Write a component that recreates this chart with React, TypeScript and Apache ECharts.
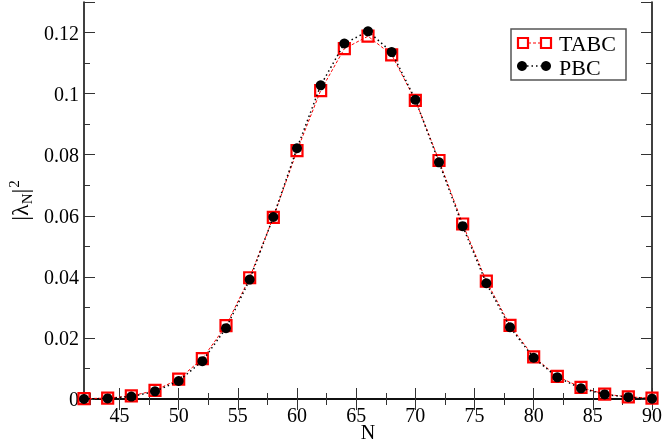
import React, { useEffect, useRef } from "react";
import * as echarts from "echarts";

const N = [42, 44, 46, 48, 50, 52, 54, 56, 58, 60, 62, 64, 66, 68, 70, 72, 74, 76, 78, 80, 82, 84, 86, 88, 90];
const tabc = [0.0001, 0.0003, 0.0010, 0.0028, 0.0065, 0.0132, 0.0240, 0.0397, 0.0595, 0.0813, 0.1010, 0.1147, 0.1188, 0.1127, 0.0978, 0.0781, 0.0573, 0.0386, 0.0241, 0.0138, 0.0074, 0.0038, 0.0016, 0.0007, 0.0003];
const pbc = [0.0000, 0.0002, 0.0008, 0.0025, 0.0059, 0.0124, 0.0232, 0.0391, 0.0596, 0.0821, 0.1027, 0.1164, 0.1204, 0.1136, 0.0980, 0.0775, 0.0566, 0.0379, 0.0235, 0.0135, 0.0071, 0.0035, 0.0015, 0.0006, 0.0001];
const xMajorTicks = [45, 50, 55, 60, 65, 70, 75, 80, 85, 90];
const xMinorTicks = [42.5, 47.5, 52.5, 57.5, 62.5, 67.5, 72.5, 77.5, 82.5, 87.5];
const seriesNames = ["TABC", "PBC"];

const FONT = "Liberation Serif";

export default function App() {
  const ref = useRef<HTMLDivElement>(null);
  useEffect(() => {
    if (!ref.current) return;
    const chart = echarts.init(ref.current, null, { renderer: "svg" });
    const xBase = { type: "value", min: 42, max: 90, gridIndex: 0 };
    const yBase = { type: "value", min: 0, max: 0.13, gridIndex: 0 };
    const tickStyle = { color: "#333", width: 1 };
    const noLabel = { show: false };
    const option: any = {
      animation: false,
      grid: { left: 84, right: 12, top: 2, bottom: 44, outerBoundsMode: "none" },
      xAxis: [
        {
          ...xBase,
          position: "bottom",
          axisLine: { show: true, lineStyle: { color: "#000", width: 1.5 } },
          axisTick: { show: true, inside: true, length: 11, customValues: xMajorTicks, lineStyle: tickStyle },
          axisLabel: { customValues: xMajorTicks, fontFamily: FONT, fontSize: 20, color: "#000", margin: 6 },
          splitLine: { show: false },
          name: "N",
          nameLocation: "middle",
          nameGap: 33,
          nameMoveOverlap: false,
          nameTextStyle: { fontFamily: FONT, fontSize: 20, lineHeight: 16, color: "#000", verticalAlign: "middle" },
        },
        {
          ...xBase,
          position: "bottom",
          axisLine: { show: false },
          axisTick: { show: true, inside: true, length: 6, customValues: xMinorTicks, lineStyle: tickStyle },
          axisLabel: noLabel,
          splitLine: { show: false },
        },
        {
          ...xBase,
          position: "top",
          axisLine: { show: true, lineStyle: { color: "#000", width: 1.5 } },
          axisTick: { show: true, inside: true, length: 11, customValues: xMajorTicks, lineStyle: tickStyle },
          axisLabel: noLabel,
          splitLine: { show: false },
        },
        {
          ...xBase,
          position: "top",
          axisLine: { show: false },
          axisTick: { show: true, inside: true, length: 6, customValues: xMinorTicks, lineStyle: tickStyle },
          axisLabel: noLabel,
          splitLine: { show: false },
        },
      ],
      yAxis: [
        {
          ...yBase,
          interval: 0.02,
          position: "left",
          axisLine: { show: true, lineStyle: { color: "#000", width: 1.5 } },
          axisTick: { show: true, inside: true, length: 11, lineStyle: tickStyle },
          axisLabel: {
            fontFamily: FONT,
            fontSize: 20,
            color: "#000",
            margin: 5,
            formatter: (v: number) => (v > 0.125 ? "" : v === 0 ? "0" : String(+v.toFixed(2))),
          },
          splitLine: { show: false },
          name: "{a||λ}{b|N}{a||}{c|2}",
          nameLocation: "middle",
          nameRotate: 90,
          nameGap: 49,
          nameMoveOverlap: false,
          nameTextStyle: {
            fontFamily: FONT,
            color: "#000",
            rich: {
              a: { fontFamily: FONT, fontSize: 24, color: "#000", lineHeight: 30, verticalAlign: "middle" },
              b: { fontFamily: FONT, fontSize: 15, color: "#000", lineHeight: 30, verticalAlign: "bottom", padding: [0, 0, 1, 0] },
              c: { fontFamily: FONT, fontSize: 15, color: "#000", lineHeight: 30, verticalAlign: "top", padding: [1, 0, 0, 1] },
            },
          },
        },
        {
          ...yBase,
          interval: 0.01,
          position: "left",
          axisLine: { show: false },
          axisTick: { show: true, inside: true, length: 6, lineStyle: tickStyle },
          axisLabel: noLabel,
          splitLine: { show: false },
        },
        {
          ...yBase,
          interval: 0.02,
          position: "right",
          axisLine: { show: true, lineStyle: { color: "#000", width: 1.5 } },
          axisTick: { show: true, inside: true, length: 11, lineStyle: tickStyle },
          axisLabel: noLabel,
          splitLine: { show: false },
        },
        {
          ...yBase,
          interval: 0.01,
          position: "right",
          axisLine: { show: false },
          axisTick: { show: true, inside: true, length: 6, lineStyle: tickStyle },
          axisLabel: noLabel,
          splitLine: { show: false },
        },
      ],
      series: [
        {
          name: seriesNames[0],
          type: "line",
          xAxisIndex: 0,
          yAxisIndex: 0,
          data: N.map((n, i) => [n, tabc[i]]),
          symbol: "rect",
          symbolSize: 11,
          lineStyle: { color: "#ff0000", width: 1, type: [3, 2] },
          itemStyle: { color: "rgba(255,255,255,0)", borderColor: "#ff0000", borderWidth: 2.2 },
          z: 2,
        },
        {
          name: seriesNames[1],
          type: "line",
          xAxisIndex: 0,
          yAxisIndex: 0,
          data: N.map((n, i) => [n, pbc[i]]),
          symbol: "circle",
          symbolSize: 10,
          lineStyle: { color: "#000", width: 1.5, type: [1.5, 3] },
          itemStyle: { color: "#000", borderWidth: 0 },
          z: 3,
        },
      ],
      graphic: [
        { type: "rect", shape: { x: 511, y: 29, width: 115, height: 51 }, style: { fill: "#fff", stroke: "#555", lineWidth: 1.5 }, z: 10 },
        { type: "line", shape: { x1: 528, y1: 43, x2: 541, y2: 43 }, style: { stroke: "#ff0000", lineWidth: 1, lineDash: [3, 2] }, z: 11 },
        { type: "rect", shape: { x: 518, y: 38, width: 10, height: 10 }, style: { fill: "none", stroke: "#ff0000", lineWidth: 2.2 }, z: 11 },
        { type: "rect", shape: { x: 541, y: 38, width: 10, height: 10 }, style: { fill: "none", stroke: "#ff0000", lineWidth: 2.2 }, z: 11 },
        {
          type: "text", x: 559, y: 43,
          style: { text: seriesNames[0], fontFamily: FONT, fontSize: 22, lineHeight: 20, fill: "#000", verticalAlign: "middle", align: "left" },
          z: 11,
        },
        { type: "line", shape: { x1: 527, y1: 66, x2: 541, y2: 66 }, style: { stroke: "#000", lineWidth: 1.5, lineDash: [1.5, 3] }, z: 11 },
        { type: "circle", shape: { cx: 522, cy: 66, r: 5 }, style: { fill: "#000" }, z: 11 },
        { type: "circle", shape: { cx: 546, cy: 66, r: 5 }, style: { fill: "#000" }, z: 11 },
        {
          type: "text", x: 559, y: 67,
          style: { text: seriesNames[1], fontFamily: FONT, fontSize: 22, lineHeight: 20, fill: "#000", verticalAlign: "middle", align: "left" },
          z: 11,
        },
      ],
    };
    chart.setOption(option);
    return () => chart.dispose();
  }, []);
  return <div ref={ref} style={{ position: "fixed", left: 0, top: 0, width: 664, height: 443 }} />;
}
